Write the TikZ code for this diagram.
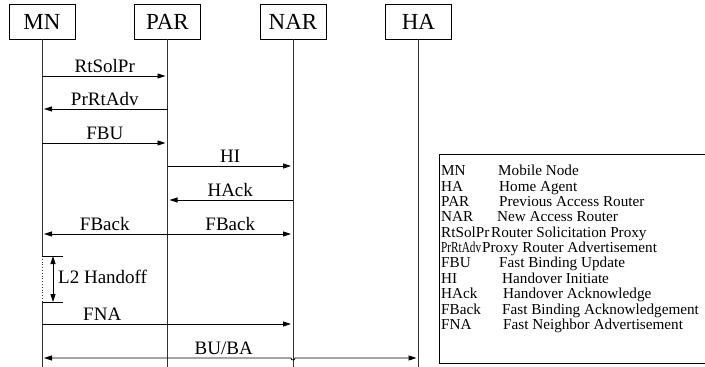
\documentclass[tikz,border=0pt]{standalone}
\usepackage{fontspec}
\setmainfont{Liberation Serif}
\usetikzlibrary{positioning, arrows.meta}
\newcommand{\narrowtext}[1]{\resizebox{40pt}{\height}{#1}}

\begin{document}
\begin{tikzpicture}[
        x=1pt, y=-1pt,
        node distance=58.7pt,
        entity/.style={rectangle, draw=black, line width=0.8pt, minimum width=66pt, minimum height=35pt, inner sep=0pt, font=\fontsize{23}{23}\selectfont},
        lifeline/.style={draw=black!80, line width=0.8pt},
        arrow/.style={line width=0.8pt, -{Triangle[length=8pt,width=5pt]}, shorten >=2pt},
        biarrow/.style={line width=0.8pt, {Triangle[length=8pt,width=5pt]}-{Triangle[length=8pt,width=5pt]}, shorten >=2pt, shorten <=2pt},
        msg/.style={font=\fontsize{19}{19}\selectfont, above, inner sep=0pt, yshift=3pt, text depth=0pt},
        legend/.style={font=\fontsize{15.2}{15.2}\selectfont, anchor=base west, inner sep=0pt}
    ]
    \useasboundingbox (0,0) rectangle (705,367);

    % Entities
    \node (MN) [entity] at (42,21.5) {MN};
    \node (PAR) [entity, right=of MN] {PAR};
    \node (NAR) [entity, right=of PAR] {NAR};
    \node (HA) [entity, right=of NAR] {HA};

    % Lifelines
    \draw [lifeline] (MN) -- (MN |- 0,256);
    \draw [lifeline, dotted] (MN |- 0,256) -- (MN |- 0,302);
    \draw [lifeline] (MN |- 0,302) -- (MN |- 0,367);
    \draw [lifeline] (PAR) -- (PAR |- 0,367);
    \draw [lifeline] (NAR) -- (NAR |- 0,367);
    \draw [lifeline] (HA) -- (HA |- 0,367);

    % Messages
    \draw [arrow] (MN |- 0,76) -- node[msg] {RtSolPr} (PAR |- 0,76);
    \draw [arrow] (PAR |- 0,109) -- node[msg] {PrRtAdv} (MN |- 0,109);
    \draw [arrow] (MN |- 0,143) -- node[msg] {FBU} (PAR |- 0,143);
    \draw [arrow] (PAR |- 0,166) -- node[msg] {HI} (NAR |- 0,166);
    \draw [arrow] (NAR |- 0,200) -- node[msg] {HAck} (PAR |- 0,200);
    \draw [arrow] (PAR |- 0,234) -- node[msg] {FBack} (MN |- 0,234);
    \draw [arrow] (PAR |- 0,234) -- node[msg] {FBack} (NAR |- 0,234);

    % L2 handoff
    \draw [line width=0.8pt] (MN |- 0,256) -- +(21,0);
    \draw [line width=0.8pt] (MN |- 0,302) -- +(21,0);
    \draw [line width=0.8pt, {Triangle[length=8pt,width=5pt]}-{Triangle[length=8pt,width=5pt]}] ([xshift=11pt]MN |- 0,256) -- ([xshift=11pt]MN |- 0,302);
    \node (Handoff) [anchor=base west, inner sep=0pt, font=\fontsize{19}{19}\selectfont] at (58,283) {L2 Handoff};

    \draw [arrow] (MN |- 0,324) -- node[msg, pos=0.24] {FNA} (NAR |- 0,324);
    \draw [biarrow] (MN |- 0,358) -- node[msg, pos=0.73] {BU/BA} ([xshift=-2pt]NAR |- 0,358) arc[start angle=180, end angle=360, radius=2pt] -- (HA |- 0,358);

    % Legend
    \draw [line width=0.9pt] (705,154) -- (439,154) -- (439,363) -- (705,363);
    \foreach \abbr/\full/\xpos [count=\i] in {MN/Mobile Node/498, HA/Home Agent/499, PAR/Previous Access Router/499, NAR/New Access Router/497, RtSolPr/Router Solicitation Proxy/491, \narrowtext{PrRtAdv}/Proxy Router Advertisement/482, FBU/Fast Binding Update/499, HI/Handover Initiate/502, HAck/Handover Acknowledge/503, FBack/Fast Binding Acknowledgement/502, FNA/Fast Neighbor Advertisement/503}
    {
        \node (abbr\i) [legend] at (441, 160.4+15.36*\i) {\abbr};
        \node (full\i) [legend] at (\xpos, 160.4+15.36*\i) {\full};
    }

\end{tikzpicture}
\end{document}
